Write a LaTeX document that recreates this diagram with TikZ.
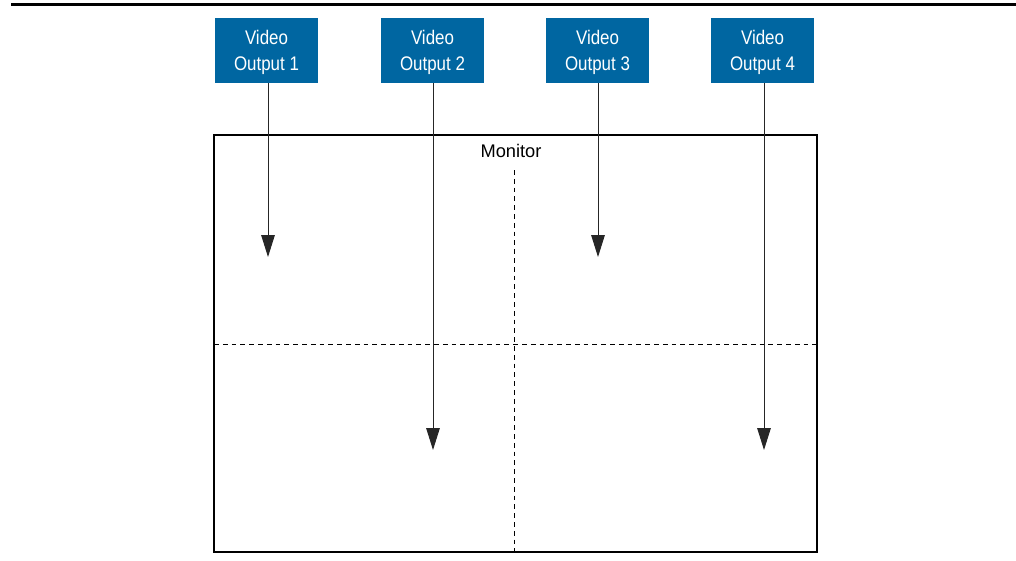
\documentclass[tikz,border=0pt]{standalone}
\usepackage{fontspec}
\setmainfont{Liberation Sans}
\newfontfamily\narrowsans[FakeStretch=0.86]{Liberation Sans}
\usetikzlibrary{arrows.meta}

\begin{document}
\begin{tikzpicture}[x=0.25mm,y=-0.25mm,
  outbox/.style={fill=vblue,text=white,minimum width=25.75mm,minimum height=16.25mm,
    inner sep=0pt,align=center,font=\narrowsans\fontsize{14}{18.2}\selectfont},
  feed/.style={black!85,line width=0.7pt,-{Triangle[length=5.5mm,width=3.4mm]}},
  split/.style={black,line width=0.7pt,dash pattern=on 1.2mm off 1mm}]
\definecolor{vblue}{RGB}{0,102,161}
\useasboundingbox (0,0) rectangle (1016,560);
\draw[line width=2pt] (11,4.5) -- (1016,4.5);
% monitor and its four quarters
\draw[line width=1pt] (214,135) rectangle (817,552);
\node[font=\fontsize{13}{15}\selectfont,anchor=base] (mon) at (511,157.5) {Monitor};
\draw[split] (514,170) -- (514,552);
\draw[split] (214,344) -- (817,344);
% video outputs
\node[outbox] (out1) at (266.5,50.5) {\rule{0pt}{13pt}Video\\Output 1};
\node[outbox] (out2) at (432.5,50.5) {\rule{0pt}{13pt}Video\\Output 2};
\node[outbox] (out3) at (597.5,50.5) {\rule{0pt}{13pt}Video\\Output 3};
\node[outbox] (out4) at (762.5,50.5) {\rule{0pt}{13pt}Video\\Output 4};
\coordinate (q1) at (268,257);
\coordinate (q2) at (433,450);
\coordinate (q3) at (598,257);
\coordinate (q4) at (764,450);
\draw[feed] (out1.south -| q1) -- (q1);
\draw[feed] (out2.south -| q2) -- (q2);
\draw[feed] (out3.south -| q3) -- (q3);
\draw[feed] (out4.south -| q4) -- (q4);
\end{tikzpicture}
\end{document}
